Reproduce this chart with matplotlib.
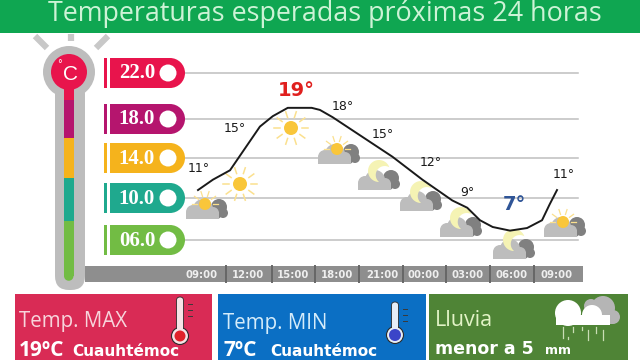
#!/usr/bin/env python3
"""Temperature forecast card: thermometer scale, 24 h curve and summary boxes."""
from __future__ import annotations

import matplotlib
matplotlib.use("Agg")
import numpy as np
import matplotlib.pyplot as plt
from matplotlib.patches import Circle, FancyBboxPatch, Polygon, Rectangle

TITLE = "Temperaturas esperadas próximas 24 horas"
SCALE_LABELS = ["22.0", "18.0", "14.0", "10.0", "06.0"]
SCALE_COLORS = ["#E8144C", "#B5156E", "#F5B31C", "#1FA98E", "#72BC44"]
HOUR_LABELS = ["09:00", "12:00", "15:00", "18:00", "21:00", "00:00", "03:00", "06:00", "09:00"]

# forecast curve (hours after the first 09:00, deg C)
CURVE_HOURS = [0, 1.0, 2.14, 3.14, 4.14, 5.0, 6, 7.6, 8.15, 9.0, 13.0, 15.0,
               17.0, 18.0, 18.85, 19.7, 20.86, 22.0, 23.0, 23.5, 24]
CURVE_TEMPS = [10.8, 11.8, 12.7, 14.8, 16.9, 17.9, 18.7, 18.7, 18.5, 17.8, 14.0, 11.8,
               9.8, 9.1, 7.9, 7.25, 6.9, 7.15, 7.9, 9.4, 10.8]

POINT_LABELS = ["11°", "15°", "19°", "18°", "15°", "12°", "9°", "7°", "11°"]

GREEN, RED, BLUE, DKGREEN = "#0FA651", "#D92B55", "#0B6FC4", "#4F8436"
GRAY, DKGRAY = "#BDBDBD", "#8E8E8E"

# pixel layout of the card
PILL_Y = [73, 119, 158, 198, 240]
HOUR_X = [202, 248, 293, 337, 382, 424, 468, 512, 557]
HOUR_SEP = [226, 272, 315, 359, 403, 446, 490, 534]
LABEL_XY = [(199, 169), (235, 128), (296, 90), (343, 106), (383, 134),
            (431, 162), (467, 193), (514, 205), (564, 174)]


def sun(ax, x, y, r=7, z=4):
    ax.add_patch(Circle((x, y), r, fc="#F9C63A", ec="none", zorder=z))
    for a in np.radians(np.arange(0, 360, 36)):
        ax.plot([x + (r + 4) * np.cos(a), x + (r + 10) * np.cos(a)],
                [y + (r + 4) * np.sin(a), y + (r + 10) * np.sin(a)],
                color="#FBE08E", lw=1.1, zorder=z)


def cloud(ax, x, y, z=5):
    # (x, y) is the middle of the flat bottom edge
    for dx, dy, r in [(13, -12, 8), (17, -6, 5), (11, -4, 4)]:
        ax.add_patch(Circle((x + dx, y + dy), r, fc="#808080", ec="none", zorder=z))
    for dx, dy, r in [(-13, -7, 7), (-3, -10, 10), (7, -6, 6)]:
        ax.add_patch(Circle((x + dx, y + dy), r, fc=GRAY, ec="none", zorder=z))
    ax.add_patch(Rectangle((x - 20, y - 7), 33, 7, fc=GRAY, ec="none", zorder=z))


def sun_cloud(ax, x, y):
    cloud(ax, x, y, z=4)
    cx, cy = x - 1, y - 15
    ax.add_patch(Circle((cx, cy), 6, fc="#F9C63A", ec="none", zorder=6))
    for a in np.radians(np.arange(180, 361, 36)):
        ax.plot([cx + 8 * np.cos(a), cx + 13 * np.cos(a)],
                [cy + 8 * np.sin(a), cy + 13 * np.sin(a)],
                color="#FBE08E", lw=0.9, zorder=6)


def moon_cloud(ax, x, y):
    cloud(ax, x, y, z=4)
    # crescent opening to the lower right
    cx, cy = x + 1, y - 19
    m = np.radians(35)
    a = m + np.radians(np.linspace(55, 305, 30))
    b = m + np.radians(np.linspace(266, 94, 20))
    outer = np.c_[cx + 11 * np.cos(a), cy + 11 * np.sin(a)]
    inner = np.c_[cx + 7 * np.cos(m) + 9 * np.cos(b), cy + 7 * np.sin(m) + 9 * np.sin(b)]
    ax.add_patch(Polygon(np.r_[outer, inner], fc="#F5F3B4", ec="none", zorder=6))


def main() -> None:
    fig = plt.figure(figsize=(6.4, 3.6), dpi=100)
    ax = fig.add_axes([0, 0, 1, 1])
    ax.set_xlim(0, 640)
    ax.set_ylim(360, 0)
    ax.axis("off")

    # title band
    ax.add_patch(Rectangle((0, 0), 640, 32.5, fc=GREEN, ec="none"))
    ax.text(325, 14, TITLE, ha="center", va="center", color="#CDF3D6",
            fontsize=19.4, family="Open Sans")

    # thermometer
    for x0, y0, x1, y1 in [(35, 36, 47, 48), (71, 34, 71, 41), (108, 36, 96, 48)]:
        ax.plot([x0, x1], [y0, y1], color="#C8C8C8", lw=4.5, solid_capstyle="butt")
    ax.add_patch(Circle((69, 72), 26, fc=GRAY, ec="none"))
    ax.add_patch(FancyBboxPatch((55, 80), 30, 210, boxstyle="round,pad=0,rounding_size=14",
                                fc=GRAY, ec="none"))
    ax.add_patch(Rectangle((64, 85), 9.5, 15, fc=SCALE_COLORS[0], ec="none"))
    for (y0, y1), c in zip([(100, 138), (138, 178), (178, 221), (221, 276)], SCALE_COLORS[1:]):
        ax.add_patch(Rectangle((64, y0), 9.5, y1 - y0, fc=c, ec="none"))
    ax.add_patch(Circle((68.75, 276), 4.75, fc=SCALE_COLORS[4], ec="none"))
    ax.add_patch(Circle((69, 72), 18, fc=SCALE_COLORS[0], ec="none"))
    ax.text(71, 75, "C", ha="center", va="center", color="white", fontsize=15, family="Liberation Sans")
    ax.text(60, 64, "°", ha="center", va="center", color="white", fontsize=7)

    # level lines and pills
    for y, label, c in zip(PILL_Y, SCALE_LABELS, SCALE_COLORS):
        ax.plot([180, 578], [y, y], color="#BEBEBE", lw=1.1, zorder=1)
        ax.add_patch(Rectangle((103.5, y - 15), 3, 30, fc=c, ec="none", zorder=2))
        ax.add_patch(Rectangle((110, y - 15), 60, 30, fc=c, ec="none", zorder=2))
        ax.add_patch(Circle((170, y), 15, fc=c, ec="none", zorder=2))
        ax.add_patch(Circle((168, y), 8.5, fc="white", ec="none", zorder=3))
        ax.text(137, y + 0.5, label, ha="center", va="center", color="white", fontsize=15,
                weight="bold", family="Liberation Serif", zorder=3)

    # icons
    sun(ax, 291, 128)
    sun(ax, 240, 184)
    sun_cloud(ax, 206, 219)
    sun_cloud(ax, 338, 164)
    moon_cloud(ax, 378, 190)
    moon_cloud(ax, 420, 211)
    moon_cloud(ax, 460, 237)
    moon_cloud(ax, 513, 259)
    sun_cloud(ax, 564, 237)

    # time bar
    ax.add_patch(Rectangle((85, 266), 498, 15.5, fc=DKGRAY, ec="none"))
    for x, label in zip(HOUR_X, HOUR_LABELS):
        ax.text(x, 275, label, ha="center", va="center", color="#EFEFEF", fontsize=7.3, weight="bold")
    for x in HOUR_SEP:
        ax.plot([x, x], [266, 281.5], color="#666666", lw=1.4)

    # curve, on its own axes scaled in hours and degrees
    px = fig.add_axes([198 / 640, 1 - 240 / 360, (557 - 198) / 640, (240 - 73.5) / 360])
    px.set_xlim(0, 24)
    px.set_ylim(6, 22)
    px.axis("off")
    px.patch.set_alpha(0)
    px.plot(CURVE_HOURS, CURVE_TEMPS, color="#1A1A1A", lw=1.4, clip_on=False, zorder=8)

    ov = fig.add_axes([0, 0, 1, 1])
    ov.set_xlim(0, 640)
    ov.set_ylim(360, 0)
    ov.axis("off")
    ov.patch.set_alpha(0)
    for (x, y), label in zip(LABEL_XY, POINT_LABELS):
        kw = dict(color="#1A1A1A", fontsize=9)
        if label == "19°":
            kw = dict(color="#E0201E", fontsize=14, weight="bold")
        elif label == "7°":
            kw = dict(color="#2F5597", fontsize=14, weight="bold")
        ov.text(x, y, label, ha="center", va="center", **kw)

    # summary boxes
    for x0, x1, c in [(15, 212, RED), (218, 426, BLUE), (429, 628, DKGREEN)]:
        ax.add_patch(Rectangle((x0, 294), x1 - x0, 70, fc=c, ec="none"))
    ax.text(19, 322, "Temp. MAX", color="#F7D5DC", fontsize=14.8, va="center", family="Open Sans")
    ax.text(19, 351, "19ºC", color="white", fontsize=15, va="center", weight="bold", family="Open Sans")
    ax.text(72, 352, "Cuauhtémoc", color="white", fontsize=11, va="center", weight="bold")
    ax.text(223, 323, "Temp. MIN", color="#D5ECFA", fontsize=14.8, va="center", family="Open Sans")
    ax.text(224, 351, "7ºC", color="white", fontsize=15, va="center", weight="bold", family="Open Sans")
    ax.text(270, 352, "Cuauhtémoc", color="white", fontsize=11, va="center", weight="bold")
    ax.text(435, 320, "Lluvia", color="#E2F3C6", fontsize=15.5, va="center", family="Open Sans")
    ax.text(435, 349, "menor a 5", color="white", fontsize=12.5, va="center", weight="bold")
    ax.text(545, 351, "mm", color="white", fontsize=9, va="center", weight="bold")

    # box thermometers
    for x, top, by, r, bulb, stem in [(180, 297, 336, 5.5, "#E0222A", "#F7E3E6"),
                                      (395, 302, 335, 6, "#3B45C8", "#E6EEF7")]:
        ax.add_patch(FancyBboxPatch((x - 3.5, top), 7, by - top, boxstyle="round,pad=0,rounding_size=3.5",
                                    fc=stem, ec="#2A2A2A", lw=0.6))
        ax.add_patch(Circle((x, by), 8.5, fc=stem, ec="#2A2A2A", lw=0.8))
        ax.add_patch(Rectangle((x - 2.8, by - 10), 5.6, 6, fc=stem, ec="none"))
        ax.add_patch(Circle((x, by), r, fc=bulb, ec="none"))
        for ty in (top + 7, top + 13, top + 19):
            ax.plot([x + 8, x + 12], [ty, ty], color="#3A3A3A", lw=0.7)

    # rain cloud
    for cx, cy, r, c in [(603, 308, 12, "#B5B5B5"), (613, 317, 7, "#B5B5B5"), (591, 306, 7, "#B5B5B5"),
                         (568, 313, 13, "white"), (592, 315, 10, "white")]:
        ax.add_patch(Circle((cx, cy), r, fc=c, ec="none"))
    ax.add_patch(Rectangle((587, 316), 26, 8, fc="#B5B5B5", ec="none"))
    ax.add_patch(Rectangle((556, 315), 54, 10, fc="white", ec="none"))
    for x0, y0, y1 in [(563, 327, 338), (573, 327, 332), (582, 327, 330), (588, 330, 340),
                       (596, 327, 333), (603, 330, 340), (568, 337, 339)]:
        ax.plot([x0, x0], [y0, y1], color="#C9DDB5", lw=0.9)

    fig.savefig("out.png", dpi=100)


if __name__ == "__main__":
    main()
